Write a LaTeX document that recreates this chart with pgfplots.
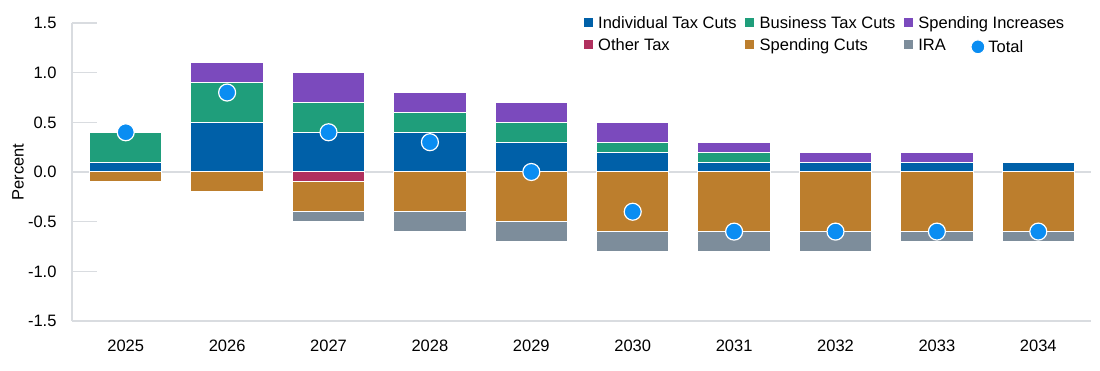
\documentclass[border=0pt]{standalone}
\usepackage{pgfplots}
\pgfplotsset{compat=1.18}
\usepackage{pgfplotstable}
\usepackage{fontspec}
\setmainfont{Liberation Sans}
\definecolor{cind}{HTML}{0060A8}
\definecolor{cbus}{HTML}{1F9E7B}
\definecolor{cinc}{HTML}{7B4ABD}
\definecolor{coth}{HTML}{B0305E}
\definecolor{ccut}{HTML}{BC7E2D}
\definecolor{cira}{HTML}{7D8D9B}
\definecolor{ctot}{HTML}{0A8DF2}
\definecolor{cgrid}{HTML}{D9DCE0}
\pgfplotstableread{
x ind bus inc oth cut ira tot
0 0.1 0.3 0.0 0.0 -0.1 0.0 0.4
1 0.5 0.4 0.2 0.0 -0.2 0.0 0.8
2 0.4 0.3 0.3 -0.1 -0.3 -0.1 0.4
3 0.4 0.2 0.2 0.0 -0.4 -0.2 0.3
4 0.3 0.2 0.2 0.0 -0.5 -0.2 0.0
5 0.2 0.1 0.2 0.0 -0.6 -0.2 -0.4
6 0.1 0.1 0.1 0.0 -0.6 -0.2 -0.6
7 0.1 0.0 0.1 0.0 -0.6 -0.2 -0.6
8 0.1 0.0 0.1 0.0 -0.6 -0.1 -0.6
9 0.1 0.0 0.0 0.0 -0.6 -0.1 -0.6
}\data
\pgfplotsset{
  base/.style={width=1019pt, height=298pt, scale only axis,
    xmin=-0.53, xmax=9.52, ymin=-1.5, ymax=1.5, clip=false},
}
\begin{document}
\begin{tikzpicture}[font=\fontsize{16.5}{19}\selectfont]
\path[use as bounding box] (-72pt,-50pt) rectangle (1028pt,321pt);
\begin{axis}[
  base,
  axis x line*=bottom, axis y line*=left,
  axis line style={draw=cgrid, line width=1.2pt},
  xtick={0,...,9},
  xticklabels={2025,2026,2027,2028,2029,2030,2031,2032,2033,2034},
  x tick style={draw=none},
  xticklabel style={yshift=-15pt},
  ytick={-1.5,-1,-0.5,0,0.5,1,1.5},
  yticklabel style={xshift=-12pt, /pgf/number format/.cd, fixed, fixed zerofill, precision=1, assume math mode=true},
  y tick style={draw=cgrid, line width=1.2pt},
  tick align=inside, major tick length=25pt,
  extra y ticks={0}, extra y tick labels={},
  extra y tick style={grid=major, major grid style={draw=cgrid, line width=2.2pt}, major tick length=0pt},
  ylabel={Percent},
  every axis y label/.style={at={(axis description cs:-0.053,0.5)}, rotate=90, anchor=center},
  ybar stacked, bar width=0.715,
  legend columns=3, legend cell align=left,
  legend style={at={(0.499,1.033)}, anchor=north west, draw=none, fill=none,
    /tikz/every even column/.append style={column sep=7pt}, row sep=7pt,
    nodes={inner sep=1.5pt, text depth=0pt}},
  legend image code/.code={\fill[#1, draw=none] (0pt,-4.5pt) rectangle (9pt,4.5pt);},
  legend style={/tikz/every odd column/.append style={column sep=4pt}},
]
\addplot[fill=cind, draw=white, line width=1pt] table[x=x,y=ind]{\data};
\addplot[fill=cbus, draw=white, line width=1pt] table[x=x,y=bus]{\data};
\addplot[fill=cinc, draw=white, line width=1pt] table[x=x,y=inc]{\data};
\addlegendimage{fill=coth}
\addlegendimage{fill=ccut}
\addlegendimage{fill=cira}
\legend{Individual Tax Cuts, Business Tax Cuts, Spending Increases, Other Tax, Spending Cuts, IRA}
\end{axis}
\begin{axis}[base, hide axis, ybar stacked, bar width=0.715]
\addplot[fill=coth, draw=white, line width=1pt] table[x=x,y=oth]{\data};
\addplot[fill=ccut, draw=white, line width=1pt] table[x=x,y=cut]{\data};
\addplot[fill=cira, draw=white, line width=1pt] table[x=x,y=ira]{\data};
\end{axis}
\begin{axis}[
  base, hide axis,
  legend style={at={(0.879,0.92)}, anchor=west, draw=none, fill=none,
    nodes={inner sep=1.5pt}, /tikz/every odd column/.append style={column sep=2pt}},
  legend image code/.code={\draw[#1, mark size=7pt] plot coordinates {(7pt,0pt)};},
]
\addplot[only marks, mark=*, mark size=8.5pt, mark options={fill=ctot, draw=white, line width=1.2pt}] table[x=x,y=tot]{\data};
\addlegendentry{Total}
\end{axis}
\end{tikzpicture}
\end{document}
